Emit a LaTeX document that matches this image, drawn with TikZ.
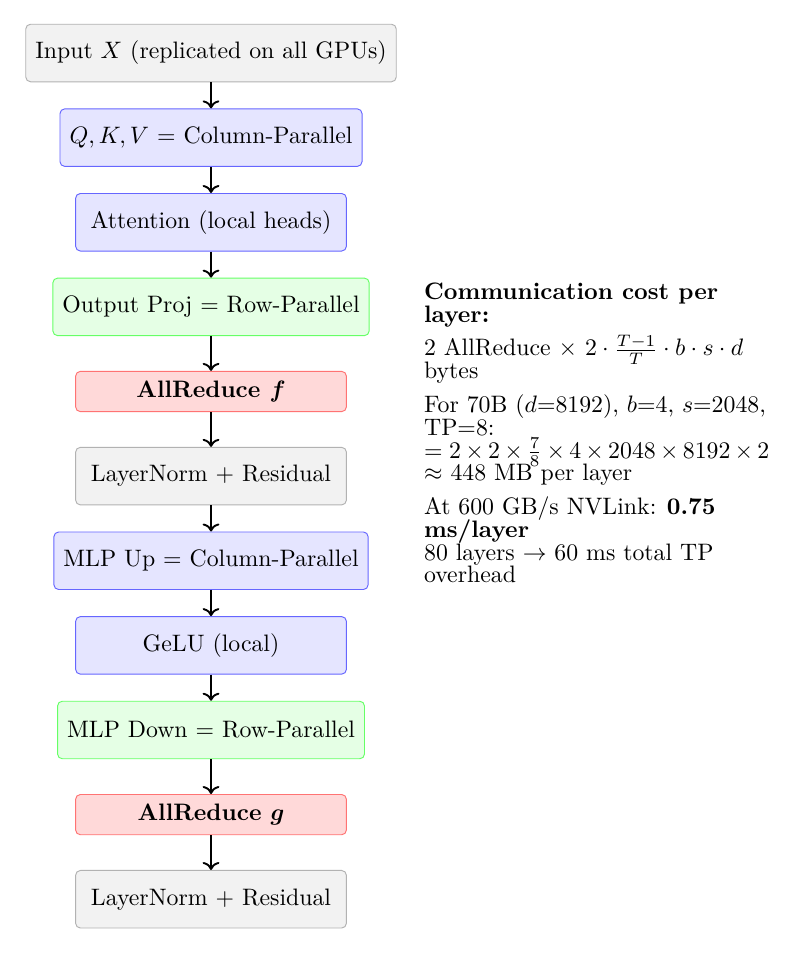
\documentclass[tikz,border=0pt]{standalone}
\usepackage{amsmath}
\usetikzlibrary{arrows.meta,positioning}
\begin{document}
\begin{tikzpicture}[
  box/.style={draw, rounded corners=2pt, inner sep=4pt, minimum width=4cm, minimum height=0.85cm, align=center, font=\normalsize},
  graybox/.style={box, fill=gray!10, draw=gray!60},
  bluebox/.style={box, fill=blue!10, draw=blue!60},
  greenbox/.style={box, fill=green!10, draw=green!60},
  redbox/.style={box, fill=red!15, draw=red!55, minimum height=0pt},
  flow/.style={->, thick},
  note/.style={text width=5.1cm, align=flush left, inner sep=4pt, font=\fontsize{10pt}{9.6pt}\selectfont}
]
\useasboundingbox (-3.117,0.783) rectangle (8.656,-13.368);
\node[graybox]  (in)   at (0,0)      {Input $X$ (replicated on all GPUs)};
\node[bluebox]  (qkv)  at (0,-1.25)  {$Q, K, V$ = Column-Parallel};
\node[bluebox]  (att)  at (0,-2.5)   {Attention (local heads)};
\node[greenbox] (proj) at (0,-3.75)  {Output Proj = Row-Parallel};
\node[redbox]   (arf)  at (0,-5)     {\textbf{AllReduce $\boldsymbol{f}$}};
\node[graybox]  (ln1)  at (0,-6.25)  {LayerNorm + Residual};
\node[bluebox]  (up)   at (0,-7.5)   {MLP Up = Column-Parallel};
\node[bluebox]  (gelu) at (0,-8.75)  {GeLU (local)};
\node[greenbox] (down) at (0,-10)    {MLP Down = Row-Parallel};
\node[redbox]   (arg)  at (0,-11.25) {\textbf{AllReduce $\boldsymbol{g}$}};
\node[graybox]  (ln2)  at (0,-12.5)  {LayerNorm + Residual};
\foreach \a/\b in {in/qkv,qkv/att,att/proj,proj/arf,arf/ln1,ln1/up,up/gelu,gelu/down,down/arg,arg/ln2}
  \draw[flow] (\a) -- (\b);
\node[note, anchor=north west] (cost) at (3.0,-3.25) {%
\lineskiplimit=-20pt\baselineskip=9.6pt
\textbf{Communication cost per layer:}\\[4.5pt]
2 AllReduce $\times$ $2\cdot\frac{T-1}{T}\cdot b\cdot s\cdot d$ bytes\\[4.5pt]
For 70B ($d$=8192), $b$=4, $s$=2048, TP=8:\\
$=2\times2\times\frac{7}{8}\times4\times2048\times8192\times2$\\
$\approx$ 448 MB per layer\\[4.5pt]
At 600 GB/s NVLink: \textbf{0.75 ms/layer}\\
80 layers $\rightarrow$ 60 ms total TP overhead};
\end{tikzpicture}
\end{document}
